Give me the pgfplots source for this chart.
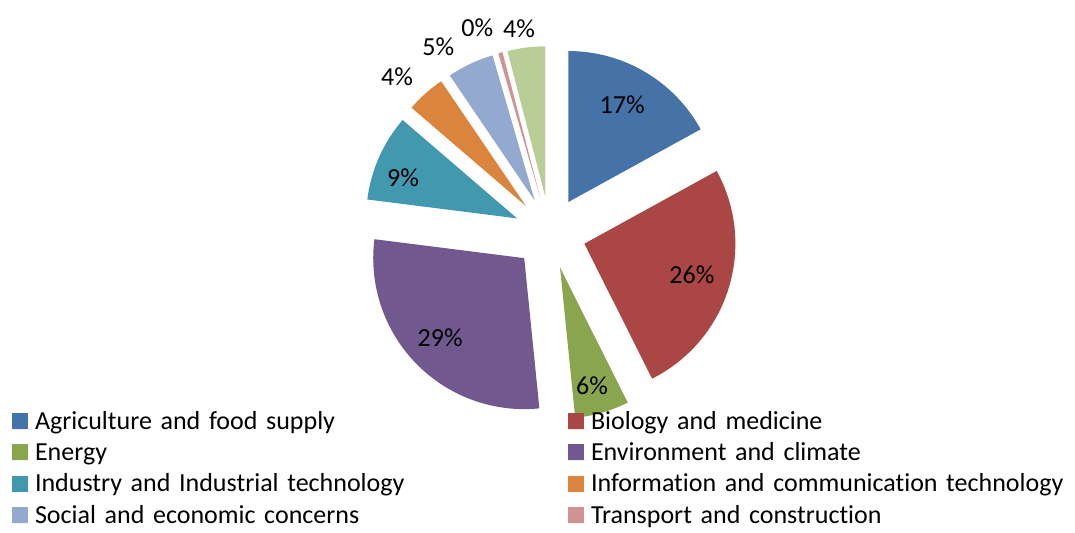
\documentclass[border=0pt]{standalone}
\usepackage{pgfplots}
\pgfplotsset{compat=1.18}
\usepackage{pgfplotstable}
\usepackage{fontspec}
\setmainfont{Carlito}[Ligatures={NoCommon}]
\usetikzlibrary{calc}

\definecolor{cAgri}{HTML}{4572A7}
\definecolor{cBio}{HTML}{AA4643}
\definecolor{cEne}{HTML}{89A54E}
\definecolor{cEnv}{HTML}{71588F}
\definecolor{cInd}{HTML}{4198AF}
\definecolor{cICT}{HTML}{DB843D}
\definecolor{cSoc}{HTML}{93A9CF}
\definecolor{cTra}{HTML}{D19392}
\definecolor{cOth}{HTML}{B9CD96}

% pct = share of the pie; lang/ldist = where the data label sits (angle, distance in px from pie centre)
\pgfplotstableread{
pct   color label lang   ldist
17.00 cAgri 17    60.6   147
25.60 cBio  26    -16.5  148
5.80  cEne  6     -74.6  158
28.60 cEnv  29    -136.3 152
9.30  cInd  9     159.5  157
4.20  cICT  4     134.3  219
5.00  cSoc  5     121    217
0.45  cTra  0     109.5  218
4.05  cOth  4     98.6   207
}\piedata

\begin{document}
\begin{tikzpicture}
\begin{axis}[
  hide axis, x=0.5pt, y=0.5pt,
  xmin=0, xmax=1075, ymin=0, ymax=532,
  at={(0pt,0pt)}, anchor=south west, clip=false,
  legend columns=2,
  legend cell align=left,
  legend image code/.code={\fill[#1] (0pt,0pt) rectangle (8pt,8pt); \path (0pt,0pt) -- (9.5pt,0pt);},
  legend style={draw=none, fill=none, inner sep=0pt, outer sep=0pt,
    font=\fontsize{13}{15}\selectfont,
    at={(axis cs:12,124.7)}, anchor=north west,
    cells={anchor=base west},
    nodes={inner xsep=2pt, inner ysep=1.85pt, text height=9pt, text depth=3pt, text width=264.5pt, align=left},
    row sep=0pt},
]
\pgfplotsextra{
  \pgfplotstablegetrowsof{\piedata}
  \pgfmathtruncatemacro\nr{\pgfplotsretval-1}
  \xdef\startang{90}
  \foreach \i in {0,...,\nr}{
    \pgfplotstablegetelem{\i}{pct}\of\piedata \let\v\pgfplotsretval
    \pgfplotstablegetelem{\i}{color}\of\piedata \let\col\pgfplotsretval
    \pgfplotstablegetelem{\i}{label}\of\piedata \let\lab\pgfplotsretval
    \pgfplotstablegetelem{\i}{lang}\of\piedata \let\la\pgfplotsretval
    \pgfplotstablegetelem{\i}{ldist}\of\piedata \let\ld\pgfplotsretval
    \pgfmathsetmacro\s{\startang}
    \pgfmathsetmacro\e{\s-3.6*\v}
    \pgfmathsetmacro\m{(\s+\e)/2}
    \fill[fill=\col] ($(axis cs:550,299)+({\m}:18pt)$) -- +({\s}:75.5pt)
        arc[start angle=\s, end angle=\e, radius=75.5pt] -- cycle;
    \node[font=\fontsize{13}{15}\selectfont, inner sep=0pt] at ($(axis cs:550,299)+({\la}:{\ld*0.5pt})$) {\lab\%};
    \xdef\startang{\e}
  }
}
\addlegendimage{fill=cAgri, draw=none}\addlegendentry{Agriculture and food supply}
\addlegendimage{fill=cBio, draw=none}\addlegendentry{Biology and medicine}
\addlegendimage{fill=cEne, draw=none}\addlegendentry{Energy}
\addlegendimage{fill=cEnv, draw=none}\addlegendentry{Environment and climate}
\addlegendimage{fill=cInd, draw=none}\addlegendentry{Industry and Industrial technology}
\addlegendimage{fill=cICT, draw=none}\addlegendentry{Information and communication technology}
\addlegendimage{fill=cSoc, draw=none}\addlegendentry{Social and economic concerns}
\addlegendimage{fill=cTra, draw=none}\addlegendentry{Transport and construction}
\end{axis}
\pgfresetboundingbox
\path[use as bounding box] (0pt,0pt) rectangle (537.5pt,266pt);
\end{tikzpicture}
\end{document}
